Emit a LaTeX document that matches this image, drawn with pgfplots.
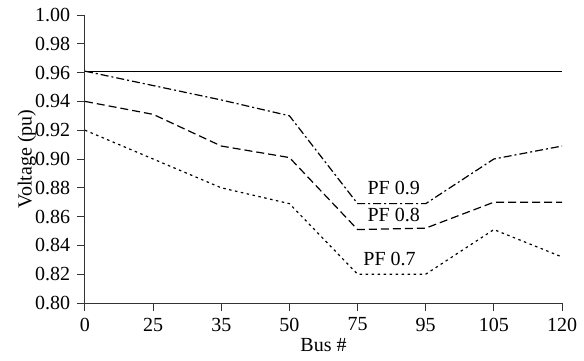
\documentclass[border=0pt]{standalone}
\usepackage{pgfplots}
\pgfplotsset{compat=1.18}
\usepackage{fontspec}
\setmainfont{Liberation Serif}
\begin{document}
\fontsize{20}{24}\selectfont
\begin{tikzpicture}
\useasboundingbox (-85pt,-57pt) rectangle (499pt,303pt);
\begin{axis}[
  scale only axis, width=477pt, height=288pt,
  at={(0,0)}, anchor=south west,
  xmin=0, xmax=7, ymin=0.80, ymax=1.00,
  axis lines=left, axis line style={-, line width=1pt, black!80},
  xtick={0,1,2,3,4,5,6,7},
  xticklabels={0,25,35,50,75,95,105,120},
  ytick={0.80,0.82,...,1.001},
  yticklabel style={/pgf/number format/.cd, fixed, fixed zerofill, precision=2},
  /pgf/number format/assume math mode=true,
  tick align=outside, major tick length=8pt,
  tick style={line width=1pt, black!80},
  xlabel={Bus \#}, ylabel={Voltage (pu)},
  xlabel style={at={(axis description cs:0.5,-0.146)}, anchor=center},
  ylabel style={at={(axis description cs:-0.122,0.5)}, anchor=center, rotate=0},
  label style={font=\fontsize{20}{24}\selectfont},
  ticklabel style={font=\fontsize{20}{24}\selectfont},
  clip=false,
]
\addplot[black, line width=1pt] coordinates {(0,0.961) (7,0.961)};
\addplot[black, line width=1.2pt, dash pattern=on 8pt off 3pt on 2pt off 3pt] coordinates {
(0,0.961) (1,0.951) (2,0.941) (3,0.930) (4,0.869) (5,0.869) (6,0.900) (7,0.909)};
\addplot[black, line width=1.2pt, dash pattern=on 8pt off 4pt] coordinates {
(0,0.940) (1,0.931) (2,0.909) (3,0.901) (4,0.851) (5,0.852) (6,0.870) (7,0.870)};
\addplot[black, line width=1.2pt, dash pattern=on 2.5pt off 3.5pt] coordinates {
(0,0.920) (1,0.900) (2,0.880) (3,0.869) (4,0.820) (5,0.820) (6,0.851) (7,0.832)};
\node[font=\fontsize{20}{24}\selectfont] at (axis cs:4.53,0.880) {PF 0.9};
\node[font=\fontsize{20}{24}\selectfont] at (axis cs:4.53,0.861) {PF 0.8};
\node[font=\fontsize{20}{24}\selectfont] at (axis cs:4.47,0.8306) {PF 0.7};
\end{axis}
\end{tikzpicture}
\end{document}
